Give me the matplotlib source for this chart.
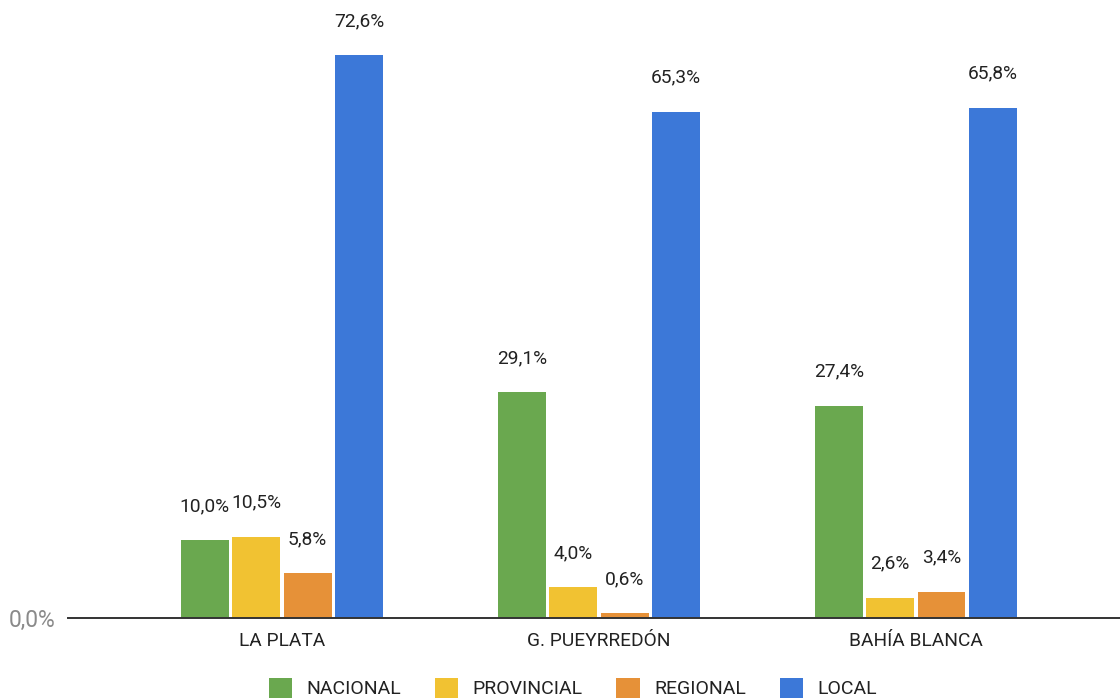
import matplotlib
matplotlib.use("Agg")
import matplotlib.pyplot as plt
import numpy as np

plt.rcParams['font.family'] = ['Roboto', 'DejaVu Sans']

categories = ["LA PLATA", "G. PUEYRREDÓN", "BAHÍA BLANCA"]
series_names = ["NACIONAL", "PROVINCIAL", "REGIONAL", "LOCAL"]
nacional = [10.0, 29.1, 27.4]
provincial = [10.5, 4.0, 2.6]
regional = [5.8, 0.6, 3.4]
local = [72.6, 65.3, 65.8]
colors = ["#6aa84f", "#f1c232", "#e69138", "#3c78d8"]

series = [nacional, provincial, regional, local]

fig = plt.figure(figsize=(11.2, 7.0), dpi=100)
ax = fig.add_axes([68 / 1120, 82 / 700, 1 - 68 / 1120, 618 / 700])

x = np.arange(len(categories))
step = 0.162
width = 0.151
offsets = (np.arange(len(series)) - 1.5) * step

for vals, off, col, name in zip(series, offsets, colors, series_names):
    bars = ax.bar(x + off, vals, width=width, color=col, label=name, zorder=2)
    for b, v in zip(bars, vals):
        ax.annotate(f"{v:.1f}%".replace(".", ","),
                    (b.get_x() + b.get_width() / 2, v),
                    xytext=(0, 24.5), textcoords="offset points",
                    ha="center", va="center", fontsize=13.8, color="#222222")

ax.set_xlim(-0.675, 2.644)
ax.set_ylim(0, 79.7)
for s in ["top", "right", "left"]:
    ax.spines[s].set_visible(False)
ax.spines["bottom"].set_color("#333333")
ax.spines["bottom"].set_linewidth(1.4)
ax.spines["bottom"].set_zorder(3)

ax.set_xticks(x)
ax.set_xticklabels(categories, fontsize=13.8, color="#222222")
ax.tick_params(axis="x", length=0, pad=10)
ax.set_yticks([0])
ax.set_yticklabels(["0,0%"], fontsize=16.5, color="#8a8a8a")
ax.tick_params(axis="y", length=0, pad=9)

fig.legend(loc="center", bbox_to_anchor=(573 / 1120, 1 - 688 / 700), ncol=4,
           frameon=False, fontsize=14, handlelength=1.2, handleheight=1.2,
           handletextpad=0.75, columnspacing=1.72, labelcolor="#222222")

fig.savefig("out.png", dpi=100)
